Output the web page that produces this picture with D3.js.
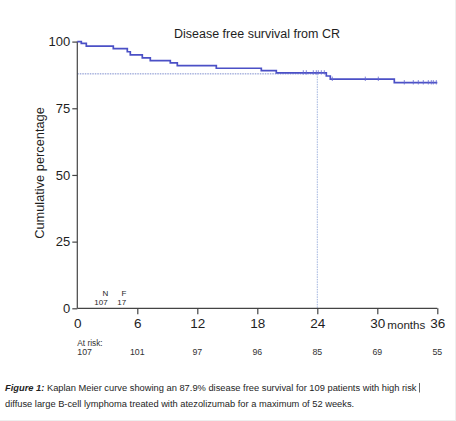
<!DOCTYPE html>
<html>
<head>
<meta charset="utf-8">
<script src="https://cdn.jsdelivr.net/npm/d3@7"></script>
<style>
  html, body { margin: 0; padding: 0; background: #fff; }
  svg { display: block; font-family: "Liberation Sans", Arial, sans-serif; }
</style>
</head>
<body>
<svg id="chart" width="456" height="421"></svg>
<script>
// ---- data ----
const title = "Disease free survival from CR";
const yLabel = "Cumulative percentage";
const xTicks = [0, 6, 12, 18, 24, 30, 36];
const yTicks = [0, 25, 50, 75, 100];
// Kaplan-Meier event times (months) and survival (%) after each event
const eventTimes = [0, 0.4, 0.9, 3.6, 5.0, 5.3, 6.5, 7.3, 9.3, 10.0, 13.9, 18.4, 19.9, 24.9, 25.3, 31.7, 36];
const survival   = [100, 99.3, 98.3, 97.4, 96.2, 95.0, 93.9, 92.9, 92.0, 91.0, 90.0, 89.1, 88.3, 87.1, 85.9, 84.6, 84.6];
// censored observations (months)
const censorTimes = [22.6, 22.9, 23.6, 23.9, 24.1, 24.4, 24.7, 25.5, 28.8, 30.1,
                     32.7, 33.6, 34.1, 34.6, 35.1, 35.4, 35.6, 35.9];
const refSurvival = 87.9;
const refTime = 24;
const atRiskTimes = [0, 6, 12, 18, 24, 30, 36];
const atRisk = [107, 101, 97, 96, 85, 69, 55];
const nLabel = "N", fLabel = "F";
const nValue = 107, fValue = 17;
const captionBold = "Figure 1:";
const captionLine1 = " Kaplan Meier curve showing an 87.9% disease free survival for 109 patients with high risk";
const captionLine2 = "diffuse large B-cell lymphoma treated with atezolizumab for a maximum of 52 weeks.";

// ---- drawing ----
const svg = d3.select("#chart");
const x = d3.scaleLinear().domain([0, 36]).range([77.3, 437.3]);
const y = d3.scaleLinear().domain([0, 100]).range([308.3, 41.6]);

const curveColor = "#4b50c6";
const axisColor = "#444";
const textColor = "#1e1e1e";

// faint frame at edges
svg.append("line").attr("x1", 0).attr("x2", 456).attr("y1", 420.5).attr("y2", 420.5)
  .attr("stroke", "#eee").attr("stroke-width", 1);
svg.append("line").attr("x1", 455.5).attr("x2", 455.5).attr("y1", 0).attr("y2", 421)
  .attr("stroke", "#eee").attr("stroke-width", 1);

// title
svg.append("text").attr("x", 257).attr("y", 37.5).attr("text-anchor", "middle")
  .attr("font-size", 12.5).attr("fill", textColor).text(title);

// y label
svg.append("text").attr("transform", `translate(43.5,${173}) rotate(-90)`)
  .attr("text-anchor", "middle").attr("font-size", 12.8).attr("fill", textColor).text(yLabel);

// reference lines
svg.append("line")
  .attr("x1", x(0)).attr("x2", x(refTime)).attr("y1", y(refSurvival)).attr("y2", y(refSurvival))
  .attr("stroke", "#5a6fc0").attr("stroke-width", 0.8).attr("stroke-dasharray", "1.5,1");
svg.append("line")
  .attr("x1", x(refTime)).attr("x2", x(refTime)).attr("y1", y(refSurvival)).attr("y2", y(0))
  .attr("stroke", "#9fb2de").attr("stroke-width", 1).attr("stroke-dasharray", "1.5,1");

// axes
const yAxis = d3.axisLeft(y).tickValues(yTicks).tickSize(5).tickPadding(2).tickFormat(d3.format("d"));
const gy = svg.append("g").attr("transform", `translate(${x(0)},0)`).call(yAxis);
gy.select(".domain").attr("stroke", axisColor).attr("stroke-width", 1.2).attr("d", `M0,${y(100)}V${y(0)}`);
gy.selectAll(".tick line").attr("stroke", axisColor).attr("stroke-width", 1.2);
gy.selectAll(".tick text").attr("font-size", 13).attr("fill", textColor)
  .attr("font-family", '"Liberation Sans", Arial, sans-serif');

const xAxis = d3.axisBottom(x).tickValues(xTicks).tickSize(6).tickPadding(4).tickFormat(d3.format("d"));
const gx = svg.append("g").attr("transform", `translate(0,${y(0)})`).call(xAxis);
gx.select(".domain").attr("stroke", axisColor).attr("stroke-width", 1.2).attr("d", `M${x(0)},0H${x(36)}`);
gx.selectAll(".tick line").attr("stroke", axisColor).attr("stroke-width", 1.2)
  .attr("display", d => d === 0 ? "none" : null);
gx.selectAll(".tick text").attr("font-size", 13.5).attr("fill", textColor)
  .attr("font-family", '"Liberation Sans", Arial, sans-serif');

// "months" label
svg.append("text").attr("x", 406.3).attr("y", 329).attr("text-anchor", "middle")
  .attr("font-size", 11.6).attr("fill", textColor).text("months");

// KM curve
const pts = eventTimes.map((t, i) => [t, survival[i]]);
const line = d3.line().x(d => x(d[0])).y(d => y(d[1])).curve(d3.curveStepAfter);
svg.append("path").datum(pts).attr("d", line)
  .attr("fill", "none").attr("stroke", curveColor).attr("stroke-width", 1.7);

// censor marks
function survAt(t) {
  let s = survival[0];
  for (let i = 0; i < eventTimes.length; i++) if (eventTimes[i] <= t) s = survival[i];
  return s;
}
svg.append("g").selectAll("line").data(censorTimes).join("line")
  .attr("x1", d => x(d)).attr("x2", d => x(d))
  .attr("y1", d => y(survAt(d)) - 2.6).attr("y2", d => y(survAt(d)) + 1.8)
  .attr("stroke", "#6367d0").attr("stroke-width", 0.8);

// N / F labels
svg.append("text").attr("x", 105.3).attr("y", 296).attr("text-anchor", "middle")
  .attr("font-size", 8).attr("fill", textColor).text(nLabel);
svg.append("text").attr("x", 101).attr("y", 304.5).attr("text-anchor", "middle")
  .attr("font-size", 8).attr("fill", textColor).text(nValue);
svg.append("text").attr("x", 124).attr("y", 296).attr("text-anchor", "middle")
  .attr("font-size", 8).attr("fill", textColor).text(fLabel);
svg.append("text").attr("x", 121.7).attr("y", 304.5).attr("text-anchor", "middle")
  .attr("font-size", 8).attr("fill", textColor).text(fValue);

// at risk
svg.append("text").attr("x", x(0)).attr("y", 345.5).attr("font-size", 8.3)
  .attr("fill", "#333").text("At risk:");
svg.append("g").selectAll("text").data(atRisk).join("text")
  .attr("x", (d, i) => x(atRiskTimes[i]))
  .attr("y", 354.5)
  .attr("text-anchor", (d, i) => i === 0 ? "start" : "middle")
  .attr("font-size", 8.8).attr("fill", "#333").text(d => d);

// caption
const cap1 = svg.append("text").attr("x", 5).attr("y", 391).attr("font-size", 9.3).attr("fill", textColor);
cap1.append("tspan").attr("font-weight", "bold").attr("font-style", "italic").text(captionBold);
cap1.append("tspan").text(captionLine1);
const w1 = cap1.node().getComputedTextLength();
const fs1 = 9.3 * 412 / w1;
cap1.attr("font-size", fs1);
svg.append("line").attr("x1", 419.5).attr("x2", 419.5).attr("y1", 383).attr("y2", 392.5)
  .attr("stroke", "#555").attr("stroke-width", 0.9);
svg.append("text").attr("x", 5).attr("y", 406.5).attr("font-size", fs1).attr("fill", textColor)
  .text(captionLine2);
</script>
</body>
</html>
